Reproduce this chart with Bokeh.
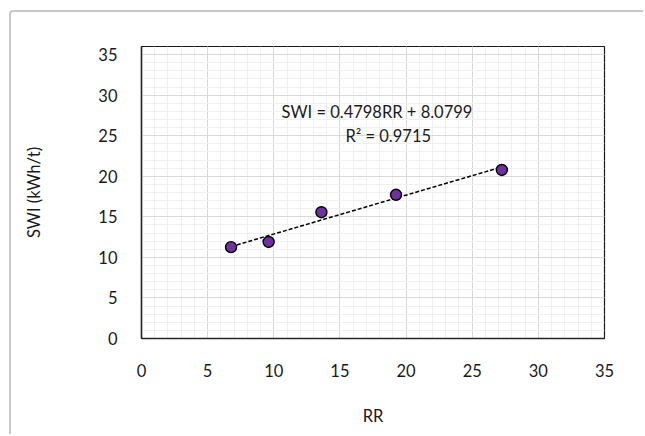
from bokeh.plotting import figure
from bokeh.models import SingleIntervalTicker, Range1d, Label
from bokeh.embed import file_html
from bokeh.resources import INLINE

# Measured samples
rr = [6.77, 9.61, 13.6, 19.24, 27.24]
swi = [11.26, 11.9, 15.57, 17.72, 20.78]

# Linear fit reported on the chart
slope = 0.4798
intercept = 8.0799
r_squared = 0.9715

FONT = "Lato"
FS = "16.5px"
TEXT = "#1a1a1a"

p = figure(
    width=634, height=424,
    x_range=Range1d(0, 35), y_range=Range1d(0, 36),
    output_backend="svg", toolbar_location=None,
    min_border_left=130, min_border_right=41,
    min_border_top=34, min_border_bottom=98,
    margin=(10, 0, 0, 9),
    styles={"border-top": "2px solid #c8c8c8",
            "border-left": "2px solid #c8c8c8",
            "border-top-left-radius": "4px"},
)
p.background_fill_color = "white"
p.border_fill_color = "white"
p.outline_line_color = "#1a1a1a"
p.outline_line_width = 1.2

p.xaxis.ticker = SingleIntervalTicker(interval=5, num_minor_ticks=5)
p.yaxis.ticker = SingleIntervalTicker(interval=5, num_minor_ticks=5)

for ax in (p.xaxis[0], p.yaxis[0]):
    ax.axis_line_color = "#262626"
    ax.axis_line_width = 1.5
    ax.major_tick_line_color = None
    ax.minor_tick_line_color = None
    ax.major_label_text_font = FONT
    ax.major_label_text_font_size = FS
    ax.major_label_text_color = TEXT
    ax.axis_label_text_font = FONT
    ax.axis_label_text_font_size = FS
    ax.axis_label_text_color = TEXT
    ax.axis_label_text_font_style = "normal"

p.xaxis.axis_label = "RR"
p.yaxis.axis_label = "SWI (kWh/t)"
p.xaxis.major_label_standoff = 19
p.xaxis.axis_label_standoff = 26
p.yaxis.major_label_standoff = 18
p.yaxis.axis_label_standoff = 51

for g in (p.xgrid[0], p.ygrid[0]):
    g.grid_line_color = "#d9d9d9"
    g.grid_line_width = 1
    g.minor_grid_line_color = "#f0f0f0"
    g.minor_grid_line_width = 1

# Trendline across the sampled range
x0, x1 = min(rr), max(rr)
p.line([x0, x1], [slope * x0 + intercept, slope * x1 + intercept],
       line_color="black", line_width=1.5, line_dash="4 2")

p.scatter(rr, swi, size=11, fill_color="#7030a0", line_color="black", line_width=1.4)

p.add_layout(Label(x=17.8, y=27.9, text=f"SWI = {slope}RR + {intercept}",
                   text_align="center", text_baseline="middle",
                   text_font=FONT, text_font_size=FS, text_color=TEXT))
p.add_layout(Label(x=18.65, y=25.0, text=f"R² = {r_squared}",
                   text_align="center", text_baseline="middle",
                   text_font=FONT, text_font_size=FS, text_color=TEXT))

open("out.html", "w").write(file_html(p, INLINE))
